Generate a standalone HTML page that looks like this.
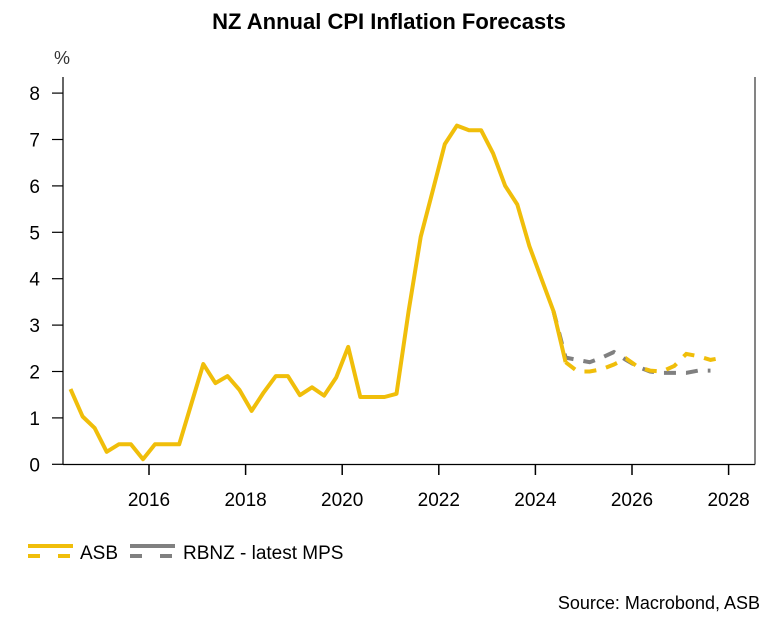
<!DOCTYPE html>
<html><head><meta charset="utf-8"><style>
html,body{margin:0;padding:0;background:#fff;}
body{width:779px;height:628px;overflow:hidden;font-family:"Liberation Sans",sans-serif;}
</style></head><body>
<svg id="chart" width="779" height="628" viewBox="0 0 779 628">
<text x="389" y="29" text-anchor="middle" font-size="22" font-weight="bold" fill="#000">NZ Annual CPI Inflation Forecasts</text>
<text x="54" y="64" font-size="18" fill="#333">%</text>
<g id="axes"></g>
<g id="series"></g>
<g>
 <g>
  <line x1="28" y1="546" x2="73" y2="546" stroke="#F0BE0A" stroke-width="4"/>
  <line x1="28" y1="556" x2="73" y2="556" stroke="#F0BE0A" stroke-width="4" stroke-dasharray="12,18"/>
  <text x="80" y="559" font-size="19" fill="#000">ASB</text>
 </g>
 <g>
  <line x1="130" y1="546" x2="175" y2="546" stroke="#808080" stroke-width="4"/>
  <line x1="130" y1="556" x2="175" y2="556" stroke="#808080" stroke-width="4" stroke-dasharray="12,18"/>
  <text x="183" y="559" font-size="19" fill="#000">RBNZ - latest MPS</text>
 </g>
</g>
<text x="760" y="609" text-anchor="end" font-size="18" fill="#000">Source: Macrobond, ASB</text>
</svg>
<script>
const asbStart = 2014.375;
const asbHist = [1.62,1.03,0.78,0.27,0.43,0.43,0.11,0.43,0.43,0.43,1.3,2.16,1.75,1.9,1.6,1.15,1.55,1.9,1.9,1.49,1.66,1.48,1.87,2.53,1.45,1.45,1.45,1.52,3.3,4.9,5.9,6.9,7.3,7.2,7.2,6.7,6.0,5.6,4.7,4.0,3.3,2.2];
const asbFcStart = 2024.625;
const asbFc = [2.2,2.0,2.0,2.05,2.15,2.28,2.1,2.02,2.0,2.12,2.38,2.33,2.25,2.3];
const rbnzStart = 2024.375;
const rbnz = [3.3,2.3,2.25,2.2,2.3,2.42,2.25,2.1,2.0,1.97,1.97,1.97,2.02,2.02];
const yTicks = [0,1,2,3,4,5,6,7,8];
const xTicks = [2016,2018,2020,2022,2024,2026,2028];

const NS = "http://www.w3.org/2000/svg";
const xS = t => 149 + (t - 2016) * 48.3;
const yS = v => 464.3 - v * 46.4;
const axes = document.getElementById('axes');
const series = document.getElementById('series');
function mk(tag, attrs, parent){const e=document.createElementNS(NS,tag);for(const k in attrs)e.setAttribute(k,attrs[k]);parent.appendChild(e);return e;}

const yAxis = mk('line',{x1:63,y1:77,x2:63,y2:464.5,stroke:'#000','stroke-width':1.2},axes);


const xAxis = mk('line',{x1:63,y1:464.5,x2:755,y2:464.5,stroke:'#000','stroke-width':1.2},axes);


const rb = mk('line',{x1:755,y1:77,x2:755,y2:464.5,stroke:'#333','stroke-width':1.2},axes);


yTicks.forEach(v=>{
  const y=yS(v);
  const tk=mk('line',{x1:52,y1:y,x2:63,y2:y,stroke:'#000','stroke-width':1.2},axes);
  
  
  const t=mk('text',{x:40,y:y+7,'text-anchor':'end','font-size':19,fill:'#000'},axes);
  t.textContent=v;
  
  
});
xTicks.forEach(yr=>{
  const x=xS(yr);
  const tk=mk('line',{x1:x,y1:464.5,x2:x,y2:475,stroke:'#000','stroke-width':1.5},axes);
  
  
  const t=mk('text',{x:x,y:506,'text-anchor':'middle','font-size':19,fill:'#000'},axes);
  t.textContent=yr;
  
  
});
function pts(start, arr){return arr.map((v,i)=>xS(start+i*0.25).toFixed(1)+','+yS(v).toFixed(1)).join(' ');}
const pr = mk('polyline',{points:pts(rbnzStart,rbnz),fill:'none',stroke:'#808080','stroke-width':4,'stroke-dasharray':'12,10'},series);


const ph = mk('polyline',{points:pts(asbStart,asbHist),fill:'none',stroke:'#F0BE0A','stroke-width':4,'stroke-linejoin':'round'},series);


const pf = mk('polyline',{points:pts(asbFcStart,asbFc),fill:'none',stroke:'#F0BE0A','stroke-width':4,'stroke-dasharray':'12,10'},series);


</script>
</body></html>
